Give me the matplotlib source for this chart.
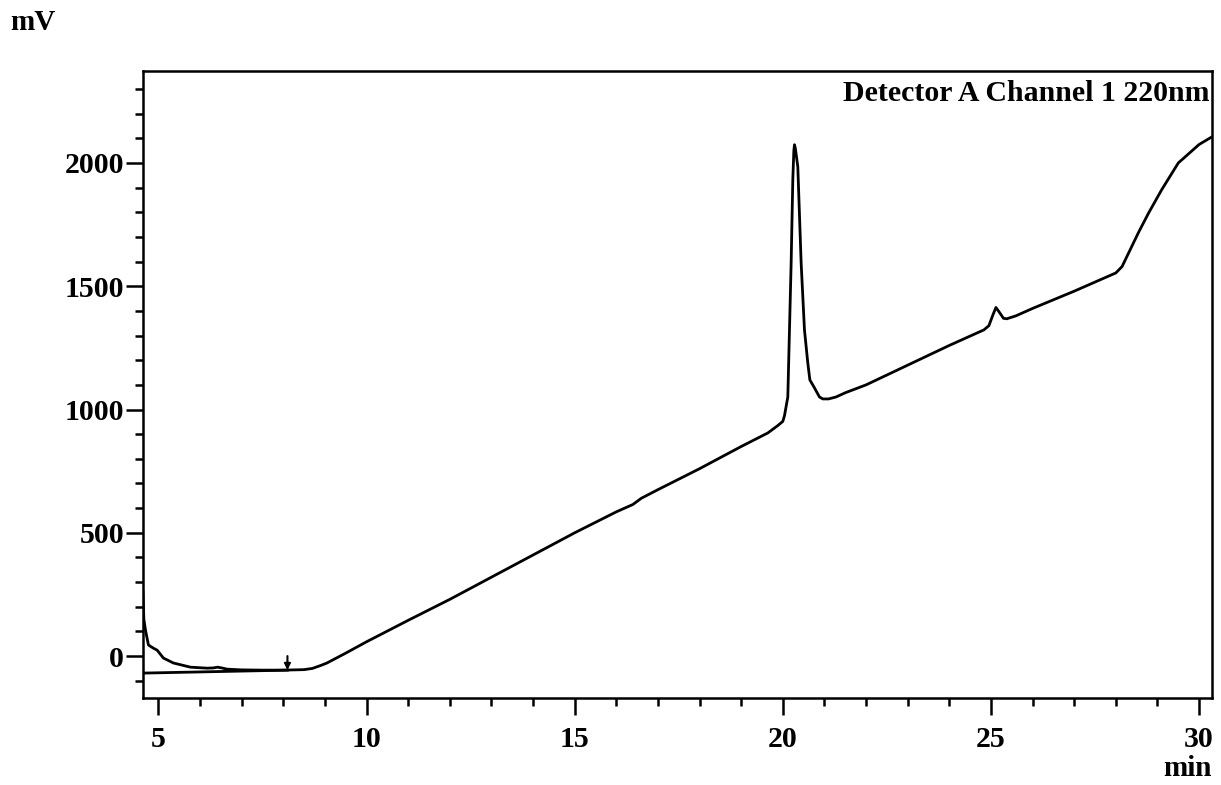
import matplotlib.pyplot as plt
from matplotlib.ticker import MultipleLocator

plt.rcParams['font.family'] = ['Liberation Serif', 'DejaVu Serif']
plt.rcParams['font.weight'] = 'bold'

# chromatogram trace (min, mV)
time = [4.63, 4.65, 4.69, 4.76, 4.88, 4.97, 5.12, 5.36, 5.77, 6.17, 6.32, 6.42,
        6.52, 6.65, 7.0, 7.5, 8.0, 8.5, 8.7, 8.9, 9.05, 9.5, 10, 11, 12, 13, 14,
        15, 16, 16.4, 16.6, 17, 18, 19, 19.64, 19.88, 20.0, 20.04, 20.12, 20.16,
        20.2, 20.24, 20.265, 20.28, 20.30, 20.36, 20.44, 20.52, 20.6, 20.65,
        20.76, 20.88, 20.96, 21.1, 21.28, 21.5, 22, 23, 24, 24.83, 24.95, 25.05,
        25.12, 25.2, 25.3, 25.38, 25.6, 26, 27, 28.0, 28.15, 28.31, 28.55,
        28.79, 29.1, 29.5, 29.7, 30.0, 30.31]
signal = [260, 150, 105, 45, 32, 24, -8, -28, -45, -49, -48, -45,
          -48, -53, -56, -57, -57, -55, -50, -38, -28, 12, 58, 145, 230, 320,
          410, 500, 585, 615, 640, 675, 760, 850, 905, 935, 952, 975, 1051,
          1323, 1595, 1932, 2050, 2074, 2060, 1985, 1595, 1323, 1189, 1120,
          1088, 1051, 1043, 1043, 1051, 1068, 1100, 1180, 1260, 1323, 1340, 1385,
          1414, 1395, 1370, 1368, 1380, 1410, 1480, 1554, 1580, 1636, 1720,
          1798, 1891, 2000, 2030, 2075, 2106]

# integration baseline and peak-start marker
base_t = [4.63, 8.1]
base_v = [-69, -57]
mark_t = 8.1
mark_top = 0
mark_tip = -57

fig = plt.figure(figsize=(12.21, 7.85), dpi=100)
ax = fig.add_axes([143 / 1221, 1 - 698 / 785, (1212 - 143) / 1221, (698 - 71) / 785])

ax.plot(time, signal, color='black', lw=2.0)
ax.plot(base_t, base_v, color='black', lw=2.0)
ax.annotate('', xy=(mark_t, mark_tip), xytext=(mark_t, mark_top),
            arrowprops=dict(arrowstyle='-|>', color='black', lw=1.5, mutation_scale=9,
                            shrinkA=0, shrinkB=0))

ax.set_xlim(4.63, 30.31)
ax.set_ylim(-170, 2373)

ax.xaxis.set_major_locator(MultipleLocator(5))
ax.xaxis.set_minor_locator(MultipleLocator(1))
ax.yaxis.set_major_locator(MultipleLocator(500))
ax.yaxis.set_minor_locator(MultipleLocator(100))
ax.tick_params(which='major', direction='out', length=12.5, width=1.8, labelsize=21.5)
ax.tick_params(which='minor', direction='out', length=6, width=1.8)
ax.tick_params(axis='x', which='major', pad=8)
ax.tick_params(axis='y', which='major', pad=1)
for s in ax.spines.values():
    s.set_linewidth(1.8)

ax.text(0.998, 0.985, 'Detector A Channel 1 220nm', transform=ax.transAxes,
        ha='right', va='top', fontsize=21.5, fontweight='bold')
fig.text(10 / 1221, 1 - 23 / 785, 'mV', ha='left', va='center', fontsize=21, fontweight='bold')
fig.text(1212 / 1221, 1 - 768 / 785, 'min', ha='right', va='center', fontsize=21, fontweight='bold')

fig.savefig('out.png', dpi=100)
